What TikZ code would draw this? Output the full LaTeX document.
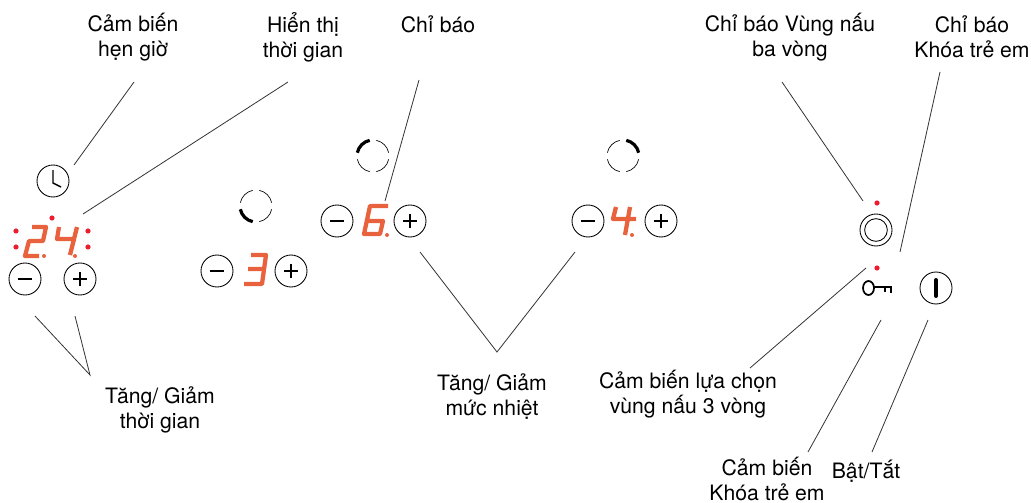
\documentclass[tikz,border=0pt]{standalone}
\usepackage{fontspec}
\setmainfont{TeX Gyre Heros}
\definecolor{seg}{RGB}{232, 98, 62}
\definecolor{dotred}{RGB}{237, 28, 46}
\definecolor{ln}{HTML}{333333}
\tikzset{
	btn/.style={circle, draw, line width=0.65pt, minimum size=24pt, inner sep=0pt},
	sign/.style={line width=1.1pt, black},
	lbl/.style={align=center, inner sep=0pt, font=\fontsize{15.9}{18.75}\selectfont},
	lead/.style={ln, line width=0.6pt},
	digit/.style={seg, line width=3.2pt, line join=round},
}
\begin{document}
\begin{tikzpicture}[x=0.75pt, y=-0.75pt]
	\useasboundingbox (0,0) rectangle (1031,503);

	% Labels
	\node[lbl] (timer) at (133,37) {Cảm biến\\hẹn giờ};
	\node[lbl] (clockshow) at (303,37) {Hiển thị\\thời gian};
	\node[lbl] (indic) at (438,24) {Chỉ báo};
	\node[lbl] (triplezone) at (790,37) {Chỉ báo Vùng nấu\\ba vòng};
	\node[lbl] (lockshow) at (972,37) {Chỉ báo\\Khóa trẻ em};
	\node[lbl] (timeset) at (160,410) {Tăng/ Giảm\\thời gian};
	\node[lbl] (heatset) at (492,397) {Tăng/ Giảm\\mức nhiệt};
	\node[lbl] (tripleset) at (688,394) {Cảm biến lựa chọn\\vùng nấu 3 vòng};
	\node[lbl] (lockset) at (767,479) {Cảm biến\\Khóa trẻ em};
	\node[lbl] (onoff) at (866,471) {Bật/Tắt};

	% Buttons
	\node[btn] (clock) at (53,181) {};
	\draw[sign] (53,170) -- (53,183) -- (61,187);
	\foreach \name/\x/\y in {ma/25/279, mb/217/271, mc/337/221, md/588/221} {
			\node[btn] (\name) at (\x,\y) {};
			\draw[sign] (\x-7,\y) -- (\x+7,\y);
		}
	\foreach \name/\x/\y in {pa/80/279, pb/291/271, pc/410/221, pd/661/221} {
			\node[btn] (\name) at (\x,\y) {};
			\draw[sign] (\x-7,\y) -- (\x+7,\y);
			\draw[sign] (\x,\y-7) -- (\x,\y+7);
		}
	\node[btn] (power) at (936,288) {};
	\draw[black, line width=3pt, line cap=round] (936,280) -- (936,296);

	% Triple ring and key
	\node[btn] (triple) at (876,230) {};
	\node[circle, draw, line width=0.65pt, minimum size=17pt, inner sep=0pt] (tripleinner) at (876,230) {};
	\draw[black, line width=1.3pt] (868.5,288) ellipse (5.5 and 7);
	\draw[black, line width=1.3pt] (874,287) -- (891,287) -- (891,293) (885,287) -- (885,292);

	% Zone rings
	\foreach \cx/\cy/\hot in {256/206/105, 373/156/195, 623/156/285} {
			\foreach \a in {12, 102, 192, 282} {
					\draw[black, line width=0.5pt] (\cx,\cy) ++(\a:16) arc (\a:\a+66:16);
				}
			\draw[black, line width=2.4pt] (\cx,\cy) ++(\hot-3:16) arc (\hot-3:\hot+63:16);
		}

	% Digits
	\draw[digit] (32,227) -- (46,227) -- (43,241) -- (29,241) -- (25,256) -- (39,256);
	\draw[digit] (59,227) -- (57,239) -- (76,239) (77,227) -- (70,255);
	\draw[digit] (251,255) -- (266,255) -- (262,284) -- (244,284) (248,269) -- (263,269);
	\draw[digit] (388,206) -- (370,206) -- (364,234) -- (380,234) -- (383,221) -- (367,221);
	\draw[digit] (616,207) -- (613,219) -- (636,219) (630,207) -- (625,235);
	\foreach \x/\y in {44/256, 75/256, 387/235, 632/235} {
			\fill[seg] (\x,\y) circle (2);
		}

	% Red dots
	\foreach \x/\y in {52/218, 16/231, 16/247, 88/231, 88/247, 877/203, 877/268} {
			\fill[dotred] (\x,\y) circle (2.6);
		}

	% Leader ends
	\coordinate (a1) at (134,82);
	\coordinate (a2) at (74,165);
	\coordinate (b1) at (288,82);
	\coordinate (b2) at (83,214);
	\coordinate (c1) at (419,80);
	\coordinate (c2) at (385,201);
	\coordinate (d1) at (782,82);
	\coordinate (d2) at (863,201);
	\coordinate (e1) at (940,72);
	\coordinate (e2) at (900,252);
	\coordinate (f1) at (866,268);
	\coordinate (f2) at (750,368);
	\coordinate (g1) at (881,320);
	\coordinate (g2) at (808,452);
	\coordinate (h1) at (928,320);
	\coordinate (h2) at (872,452);
	\coordinate (k1) at (35,316);
	\coordinate (k2) at (90,375);
	\coordinate (k3) at (75,316);
	\coordinate (v1) at (420,252);
	\coordinate (v2) at (497,352);
	\coordinate (v3) at (575,252);

	\draw[lead] (a1) -- (a2);
	\draw[lead] (b1) -- (b2);
	\draw[lead] (c1) -- (c2);
	\draw[lead] (d1) -- (d2);
	\draw[lead] (e1) -- (e2);
	\draw[lead] (f1) -- (f2);
	\draw[lead] (g1) -- (g2);
	\draw[lead] (h1) -- (h2);
	\draw[lead] (k1) -- (k2) -- (k3);
	\draw[lead] (v1) -- (v2) -- (v3);
\end{tikzpicture}
\end{document}
